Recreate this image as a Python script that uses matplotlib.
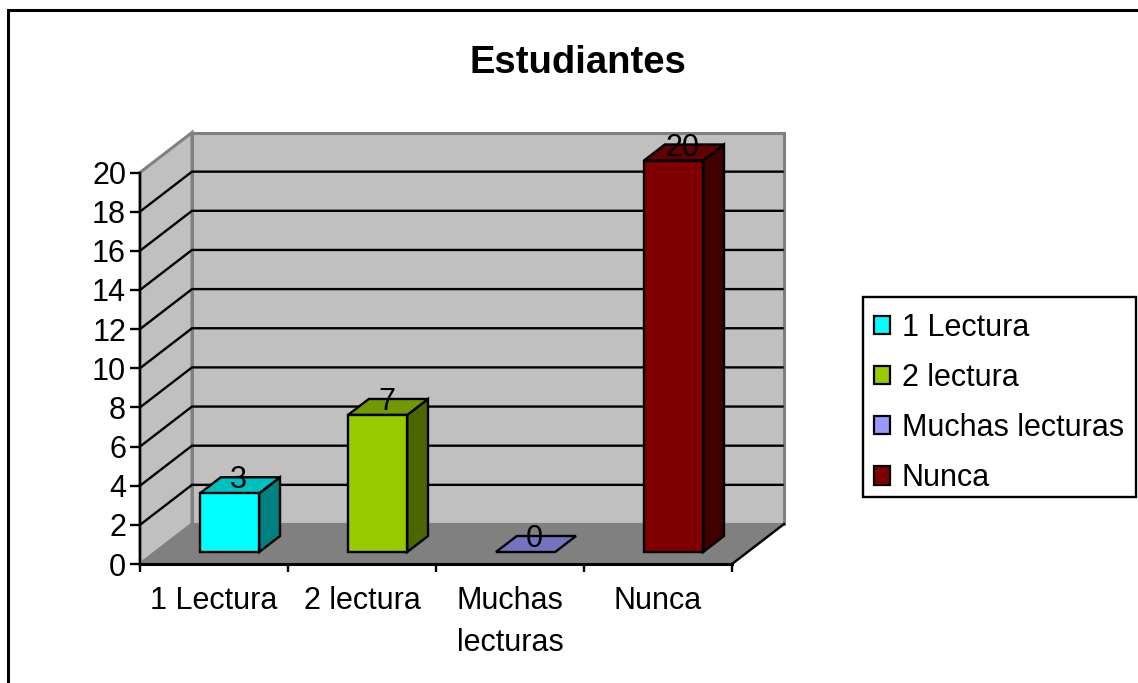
import matplotlib
matplotlib.use("Agg")
import matplotlib.pyplot as plt
from matplotlib.patches import Polygon, Patch, Rectangle

plt.rcParams['font.family'] = ['Liberation Sans', 'DejaVu Sans']

title = "Estudiantes"
categories = ["1 Lectura", "2 lectura", "Muchas lecturas", "Nunca"]
tick_labels = ["1 Lectura", "2 lectura", "Muchas\nlecturas", "Nunca"]
values = [3, 7, 0, 20]
yticks = list(range(0, 21, 2))
front_colors = ["#00FFFF", "#99CC00", "#9999FF", "#800000"]
top_colors = ["#00BFBF", "#739900", "#7373BF", "#600000"]
side_colors = ["#008080", "#4D6600", "#4D4D80", "#400000"]

W, H = 1138, 683
FS = 22
fig = plt.figure(figsize=(W / 100, H / 100), dpi=100, facecolor="white")

# chart-area border: only left and top show, the rest runs off the picture
fig.add_artist(Rectangle((7.5 / W, -0.05), 1.1, 1.05 - 9.5 / H,
                         transform=fig.transFigure, fill=False, ec="black", lw=2.2))

L, R, B, T = 140, 732, 564, 172.5
ax = fig.add_axes([L / W, 1 - B / H, (R - L) / W, (B - T) / H])
ax.set_xlim(0, len(categories))
ax.set_ylim(0, 20)
ax.patch.set_visible(False)
for s in ("top", "right"):
    ax.spines[s].set_visible(False)
ax.spines["left"].set_linewidth(1.7)
ax.spines["bottom"].set_linewidth(2.2)

# depth of the 3-D box, in data units
DX = 52 / ((R - L) / len(categories))
DY = 40 / ((B - T) / 20)
BAR_OFF = 0.30
BAR_DEPTH = 0.40
BAR_W = 0.40
GRAY = "#808080"
WALL = "#C0C0C0"

def poly(pts, fc, ec, lw=1.5, z=2):
    ax.add_patch(Polygon(pts, closed=True, fc=fc, ec=ec, lw=lw, zorder=z,
                         clip_on=False, joinstyle="miter"))

n = len(categories)
# back wall, side wall, floor
poly([(DX, DY), (n + DX, DY), (n + DX, 20 + DY), (DX, 20 + DY)], WALL, GRAY, 2.2, 1)
poly([(0, 0), (DX, DY), (DX, 20 + DY), (0, 20)], WALL, GRAY, 2.2, 1)
poly([(0, 0), (n, 0), (n + DX, DY), (DX, DY)], GRAY, GRAY, 1.5, 1)

# gridlines (the top value coincides with the wall edge, which stays gray)
for v in yticks[1:-1]:
    ax.plot([0, DX, n + DX - 0.01], [v, v + DY, v + DY], color="black", lw=1.7,
            zorder=1.5, clip_on=False, solid_joinstyle="miter")
# front-right floor edge
ax.plot([n, n + DX], [0, DY], color="black", lw=1.7, zorder=3, clip_on=False)

# bars
centers = [i + 0.5 + BAR_OFF * DX for i in range(n)]
y0 = BAR_OFF * DY
for c, v, fc, tc, sc in zip(centers, values, front_colors, top_colors, side_colors):
    l, r = c - BAR_W / 2, c + BAR_W / 2
    t = y0 + v
    ddx, ddy = BAR_DEPTH * DX, BAR_DEPTH * DY
    if v > 0:
        poly([(r, y0), (r + ddx, y0 + ddy), (r + ddx, t + ddy), (r, t)], sc, "black", 1.7, 4)
    poly([(l, t), (r, t), (r + ddx, t + ddy), (l + ddx, t + ddy)], tc, "black", 1.7, 4)
    if v > 0:
        ax.bar(c, v, width=BAR_W, bottom=y0, color=fc, edgecolor="black", linewidth=1.7,
               zorder=5, clip_on=False)
    ax.text(c + ddx / 2 - 0.01, t + ddy * 0.8, str(v), ha="center", va="center",
            fontsize=FS, color="black", zorder=6, clip_on=False)

# axes ticks
ax.set_yticks(yticks)
ax.tick_params(axis="y", length=7, width=1.7, pad=3, labelsize=FS, direction="out")
ax.set_xticks(range(n + 1))
ax.set_xticklabels([])
ax.tick_params(axis="x", which="major", length=6, width=1.7)
ax.set_xticks([i + 0.5 for i in range(n)], minor=True)
ax.set_xticklabels(tick_labels, minor=True, fontsize=FS, linespacing=1.53)
ax.tick_params(axis="x", which="minor", length=0, pad=15.5)

fig.text(578 / W, 1 - 63 / H, title, fontsize=27.5, fontweight="bold",
         ha="center", va="center")

# legend box
fig.add_artist(Rectangle((862.5 / W, 1 - 496.5 / H), 273.5 / W, 199.5 / H,
                         transform=fig.transFigure, fc="white", ec="black", lw=1.7))
handles = [Patch(fc=c, ec="black", lw=1.6) for c in front_colors]
leg = fig.legend(handles, categories, loc="center left",
                 bbox_to_anchor=(862.5 / W, 1 - 403 / H), frameon=False,
                 fontsize=FS, borderpad=0.36,
                 labelspacing=0.66, handlelength=0.54, handleheight=0.54,
                 handletextpad=0.38, borderaxespad=0)

fig.savefig("out.png", dpi=100)
